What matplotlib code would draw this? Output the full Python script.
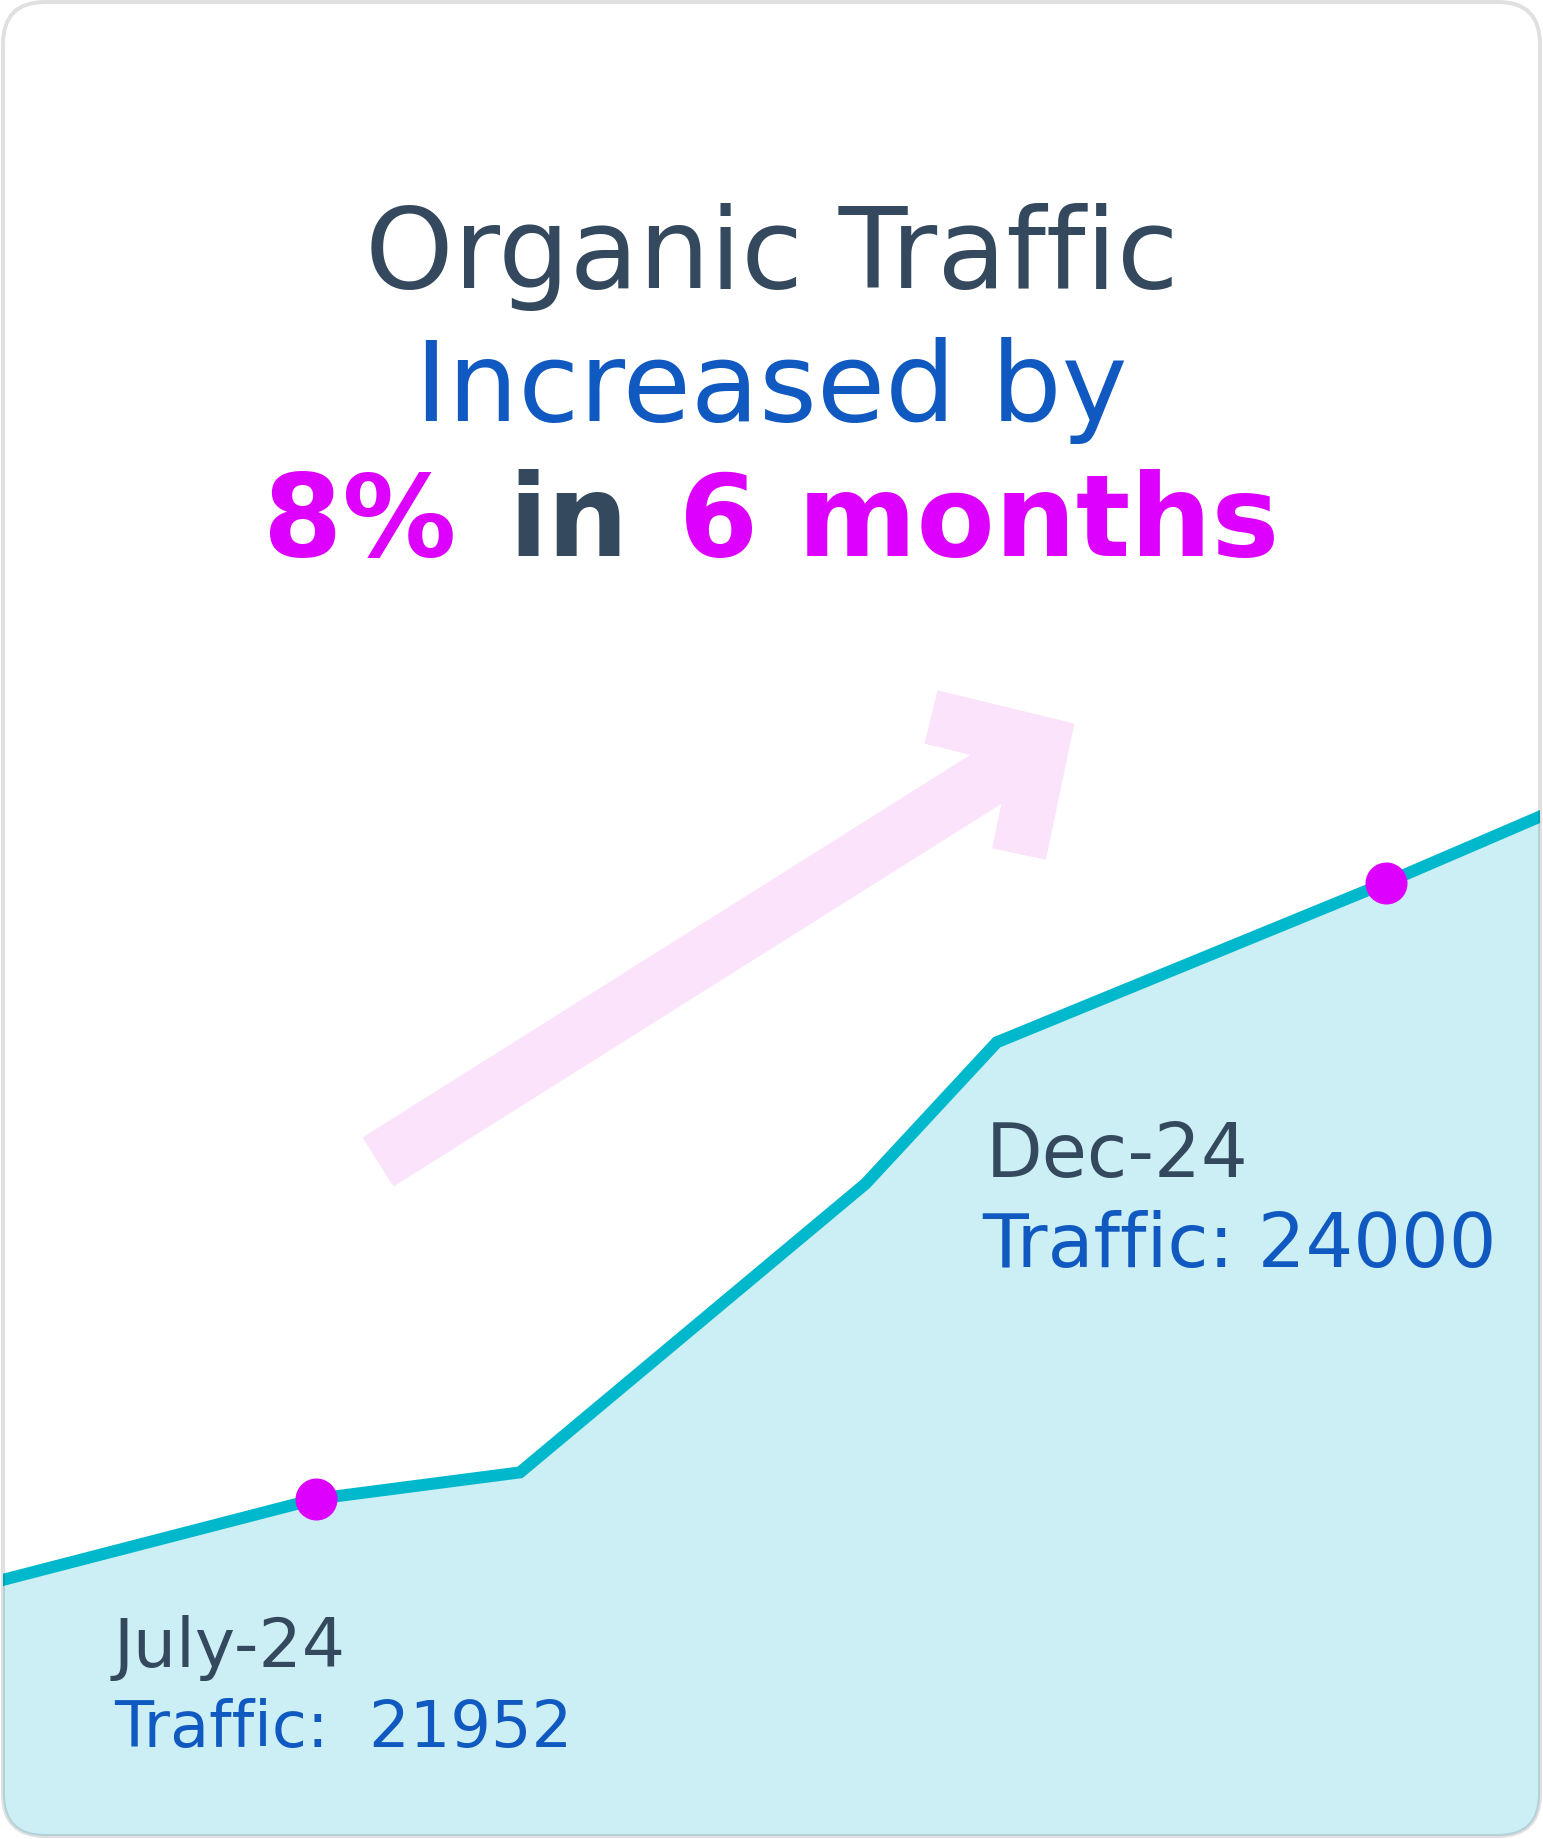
"""
Organic traffic card: line + area with two highlighted months.
"""

import matplotlib
matplotlib.use("Agg")
import matplotlib.pyplot as plt
from matplotlib.patches import FancyBboxPatch
from matplotlib.lines import Line2D

W, H, DPI = 1543, 1840, 100
PT = 72.0 / DPI  # pixels -> points

DARK = "#34495e"
BLUE = "#1059c0"
MAGENTA = "#dd00ff"
CYAN = "#00b8cc"
FILL = "#cceff5"
PINK = "#fbe3fb"

# data (x on a 0-10 scale across the card, y = monthly organic traffic)
month_pos = [0.0, 2.05, 3.37, 5.61, 6.46, 8.98, 10.0]
traffic = [21680, 21952, 22040, 23000, 23470, 24000, 24225]
highlight_idx = [1, 5]
highlight_months = ["July-24", "Dec-24"]
highlight_text = ["Traffic:  21952", "Traffic: 24000"]

title_top = "Organic Traffic"
title_mid = "Increased by"
headline_parts = ["8%", "in", "6 months"]
headline_colors = [MAGENTA, DARK, MAGENTA]


def main():
    plt.rcParams["font.family"] = ["DejaVu Sans"]
    fig = plt.figure(figsize=(W / DPI, H / DPI), dpi=DPI)
    fig.patch.set_facecolor("white")

    ax = fig.add_axes([0, 0, 1, 1])
    ax.set_xlim(0, 10)
    ax.set_ylim(20821, 26939)
    ax.axis("off")

    deco = fig.add_axes([0, 0, 1, 1])
    deco.set_xlim(0, W)
    deco.set_ylim(H, 0)
    deco.axis("off")

    def card(**kw):
        return FancyBboxPatch((3, 3), W - 6, H - 6,
                              boxstyle="round,pad=0,rounding_size=42",
                              transform=deco.transData, **kw)

    clip = card(facecolor="none", edgecolor="none")

    area = ax.fill_between(month_pos, traffic, 20821, color=FILL, lw=0)
    area.set_clip_path(clip)
    line, = ax.plot(month_pos, traffic, color=CYAN, lw=12 * PT,
                    solid_joinstyle="miter")
    line.set_clip_path(clip)
    ax.plot([month_pos[i] for i in highlight_idx],
            [traffic[i] for i in highlight_idx],
            "o", color=MAGENTA, ms=42 * PT, mew=0)

    deco.add_patch(card(facecolor="none", edgecolor=(0, 0, 0, 0.12), lw=4 * PT))

    # arrow
    deco.add_line(Line2D([378, 1042], [1163, 745], lw=58 * PT, color=PINK,
                         solid_capstyle="butt"))
    deco.add_line(Line2D([931, 1042, 1019], [718, 745, 855], lw=55 * PT,
                         color=PINK, solid_joinstyle="miter",
                         solid_capstyle="butt"))

    # titles
    deco.text(W / 2, 288, title_top, color=DARK, fontsize=81,
              ha="center", va="baseline")
    deco.text(W / 2, 421, title_mid, color=BLUE, fontsize=80,
              ha="center", va="baseline")

    hsize = 82
    renderer = fig.canvas.get_renderer()
    pieces = [deco.text(0, 556, s, color=c, fontsize=hsize, fontweight="bold",
                        ha="left", va="baseline")
              for s, c in zip(headline_parts, headline_colors)]
    widths = [t.get_window_extent(renderer).width for t in pieces]
    gap = 0.45 * hsize / PT
    x = W / 2 - (sum(widths) + gap * (len(pieces) - 1)) / 2
    for t, w in zip(pieces, widths):
        t.set_x(x)
        x += w + gap

    # labels
    deco.text(114, 1667, highlight_months[0], color=DARK, fontsize=49,
              ha="left", va="baseline")
    deco.text(114, 1747, highlight_text[0], color=BLUE, fontsize=46,
              ha="left", va="baseline")
    deco.text(986, 1177, highlight_months[1], color=DARK, fontsize=53,
              ha="left", va="baseline")
    deco.text(982, 1267, highlight_text[1], color=BLUE, fontsize=54,
              ha="left", va="baseline")

    fig.savefig("out.png", dpi=DPI, facecolor="white")


if __name__ == "__main__":
    main()
